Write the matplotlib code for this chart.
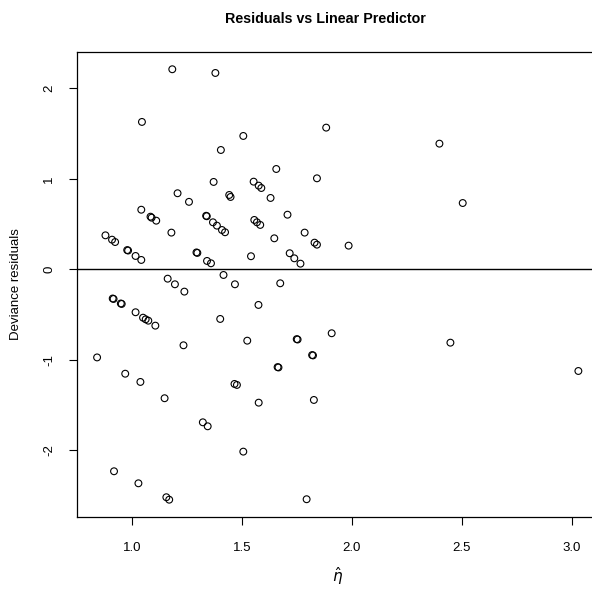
import matplotlib
matplotlib.use("Agg")
import matplotlib.pyplot as plt

plt.rcParams['font.family'] = ['Liberation Sans', 'DejaVu Sans']

eta_hat = [1.184, 1.380, 1.046, 1.507, 1.405, 1.372, 1.554, 1.577, 1.589, 1.208,
           1.443, 1.449, 1.260, 1.043, 1.884, 2.399, 1.657, 1.842, 1.631, 2.505,
           1.085, 1.090, 1.111, 1.338, 1.341, 1.369, 1.387, 1.410, 1.424, 1.557,
           1.569, 1.584, 1.180, 0.880, 0.910, 0.924, 0.979, 0.983, 1.017, 1.043,
           1.294, 1.298, 1.342, 1.360, 1.542, 1.163, 1.196, 1.239, 1.417, 1.469,
           1.576, 0.913, 0.917, 0.950, 0.954, 1.017, 1.051, 1.063, 1.075, 1.107,
           1.402, 1.235, 1.525, 0.842, 1.708, 1.648, 1.786, 1.831, 1.842, 1.986,
           1.718, 1.739, 1.767, 1.675, 1.909, 1.750, 1.754, 1.820, 1.824, 2.449,
           0.970, 1.039, 1.149, 1.467, 1.478, 1.577, 1.323, 1.345, 1.507, 0.919,
           1.030, 1.157, 1.170, 1.663, 1.667, 1.828, 1.795, 3.031]
dev_resid = [2.210, 2.169, 1.628, 1.473, 1.318, 0.965, 0.968, 0.924, 0.898, 0.840,
             0.821, 0.799, 0.745, 0.658, 1.565, 1.388, 1.108, 1.005, 0.788, 0.732,
             0.581, 0.570, 0.537, 0.591, 0.586, 0.519, 0.482, 0.434, 0.409, 0.545,
             0.519, 0.490, 0.405, 0.375, 0.327, 0.301, 0.212, 0.207, 0.147, 0.103,
             0.186, 0.181, 0.092, 0.066, 0.144, -0.104, -0.166, -0.247, -0.063, -0.166,
             -0.394, -0.323, -0.328, -0.378, -0.383, -0.475, -0.535, -0.553, -0.568, -0.623,
             -0.549, -0.840, -0.789, -0.974, 0.603, 0.342, 0.405, 0.294, 0.272, 0.261,
             0.177, 0.121, 0.062, -0.155, -0.707, -0.772, -0.776, -0.948, -0.952, -0.811,
             -1.154, -1.245, -1.425, -1.267, -1.278, -1.474, -1.691, -1.735, -2.015, -2.232,
             -2.365, -2.519, -2.546, -1.081, -1.085, -1.444, -2.541, -1.124]

x_ticks = [1.0, 1.5, 2.0, 2.5, 3.0]
x_tick_labels = ["1.0", "1.5", "2.0", "2.5", "3.0"]
y_ticks = [-2, -1, 0, 1, 2]
y_tick_labels = ["-2", "-1", "0", "1", "2"]

W, H = 592, 590
fig = plt.figure(figsize=(W / 100, H / 100), dpi=100)
ax = fig.add_axes([77.3 / W, 1 - 516.7 / H, (599.7 - 77.3) / W, (516.7 - 51.7) / H])

ax.scatter(eta_hat, dev_resid, s=24, facecolors='none', edgecolors='black', linewidths=0.8)
ax.axhline(0, color='black', linewidth=1.0)

ax.set_xlim(0.752, 3.128)
ax.set_ylim(-2.734, 2.404)

ax.set_xticks(x_ticks)
ax.set_xticklabels(x_tick_labels)
ax.set_yticks(y_ticks)
ax.set_yticklabels(y_tick_labels, rotation=90, va='center')
ax.tick_params(axis='x', direction='out', length=6, width=0.8, labelsize=9.5, pad=12)
ax.tick_params(axis='y', direction='out', length=6, width=0.8, labelsize=9.5, pad=10)
for sp in ax.spines.values():
    sp.set_linewidth(0.9)

fig.text(16 / W, 1 - 284 / H, "Deviance residuals", rotation=90, ha='center', va='center', fontsize=9.5)
fig.text(338 / W, 1 - 576 / H, r"$\hat{\eta}$", ha='center', va='center', fontsize=11)
fig.text(325 / W, 1 - 19 / H, "Residuals vs Linear Predictor", ha='center', va='center',
         fontsize=10.3, fontweight='bold')

fig.savefig("out.png", dpi=100)
